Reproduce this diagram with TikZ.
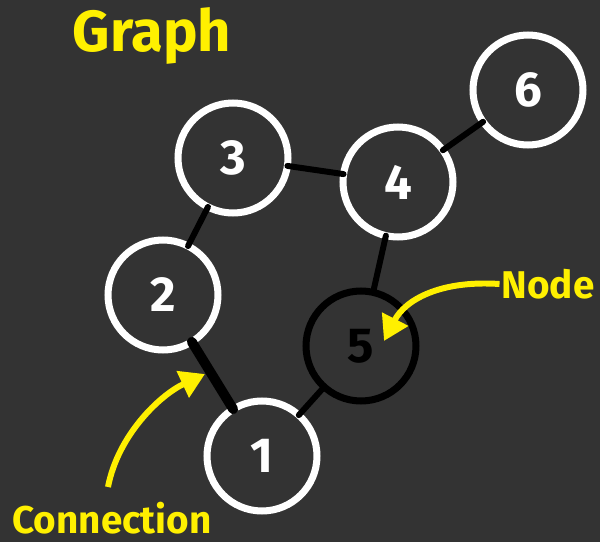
\documentclass[tikz,border=0pt]{standalone}
\usepackage{fontspec}
\setmainfont{Fira Sans}
\usetikzlibrary{arrows.meta,positioning}

\definecolor{bgdark}{RGB}{51,51,51}
\definecolor{penyellow}{RGB}{255,240,0}

\tikzset{
    vertex/.style={circle, draw=white, line width=4pt, minimum size=2.2cm, inner sep=0pt,
        text=white, font=\fontsize{28}{30}\selectfont\bfseries},
    edge/.style={black, line width=3.4pt, line cap=round, shorten <=-2pt, shorten >=-2pt},
    note/.style={penyellow, font=\fontsize{22}{24}\selectfont\bfseries, inner sep=1pt},
    pointer/.style={penyellow, line width=3.4pt, -{Triangle[length=14pt, width=16pt]}}
}

\begin{document}
\begin{tikzpicture}[x=0.02cm, y=-0.02cm]
    \fill[bgdark] (0, 0) rectangle (600, 542);
    \useasboundingbox (0, 0) rectangle (600, 542);

    \node[penyellow, font=\fontsize{33}{36}\selectfont\bfseries] (title) at (152, 36) {Graph};

    % Vertices
    \node[vertex] (n1) at (262, 456) {1};
    \node[vertex] (n2) at (163, 295) {2};
    \node[vertex] (n3) at (233, 158) {3};
    \node[vertex] (n4) at (398, 182) {4};
    \node[vertex, draw=black, text=black] (n5) at (361, 346) {5};
    \node[vertex] (n6) at (528, 90) {6};

    % Connections
    \draw[edge] (n2) -- (n3);
    \draw[edge] (n3) -- (n4);
    \draw[edge] (n4) -- (n6);
    \draw[edge] (n4) -- (n5);
    \draw[edge] (n5) -- (n1);
    \draw[edge, line width=5.6pt] (n2) -- (n1);

    % Labels
    \node[note] (nodelbl) at (548, 284) {Node};
    \coordinate (nodetip) at (384, 341);
    \draw[pointer] (nodelbl.west) .. controls (440, 280) and (405, 300) .. (nodetip);

    \node[note] (connlbl) at (112, 518) {Connection};
    \coordinate (conntip) at (205, 374);
    \draw[pointer] (108, 487) .. controls (118, 435) and (160, 395) .. (conntip);
\end{tikzpicture}
\end{document}
